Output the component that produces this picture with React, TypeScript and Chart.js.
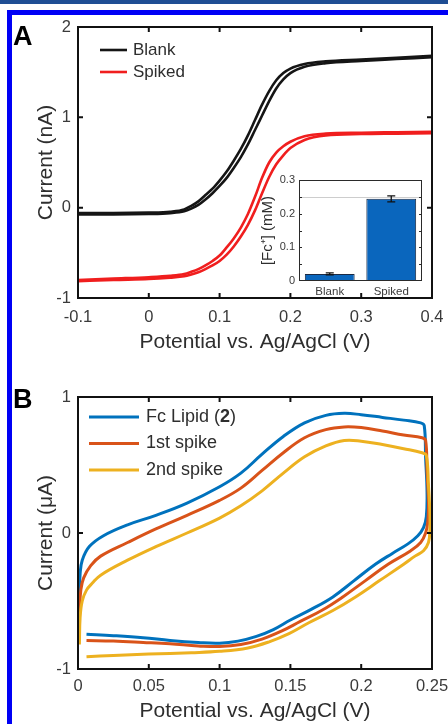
import { useEffect, useRef } from 'react';
import { Chart, registerables } from 'chart.js';

Chart.register(...registerables);

const FONT = '"Liberation Sans", Arial, Helvetica, sans-serif';
const TICK_COLOR = '#3a3a3a';
const TITLE_COLOR = '#2e2e2e';

// ---------- Panel A: steady-state voltammograms ----------
const potentialA = [-0.1, -0.05, 0, 0.03, 0.05, 0.06, 0.07, 0.08, 0.09, 0.1, 0.11, 0.12, 0.13, 0.14, 0.15, 0.16, 0.17, 0.18, 0.19, 0.2, 0.22, 0.25, 0.3, 0.35, 0.4];
const blankForward = [-0.06, -0.06, -0.055, -0.045, -0.02, 0.02, 0.07, 0.14, 0.21, 0.3, 0.4, 0.52, 0.65, 0.8, 0.97, 1.14, 1.29, 1.41, 1.49, 1.54, 1.59, 1.62, 1.64, 1.66, 1.68];
const blankReverse = [-0.075, -0.075, -0.07, -0.06, -0.04, -0.01, 0.03, 0.09, 0.16, 0.24, 0.33, 0.44, 0.56, 0.7, 0.86, 1.02, 1.18, 1.32, 1.42, 1.49, 1.56, 1.6, 1.625, 1.645, 1.665];
const spikedForward = [-0.8, -0.785, -0.77, -0.755, -0.735, -0.71, -0.68, -0.64, -0.59, -0.53, -0.44, -0.34, -0.22, -0.07, 0.12, 0.33, 0.5, 0.61, 0.68, 0.73, 0.79, 0.82, 0.83, 0.835, 0.84];
const spikedReverse = [-0.815, -0.8, -0.79, -0.775, -0.76, -0.74, -0.715, -0.68, -0.64, -0.59, -0.52, -0.43, -0.32, -0.19, -0.03, 0.16, 0.34, 0.48, 0.58, 0.66, 0.75, 0.8, 0.815, 0.82, 0.825];
const seriesNamesA = ['Blank', 'Spiked'];
const xTicksA = [-0.1, 0, 0.1, 0.2, 0.3, 0.4];
const xTickLabelsA = ['-0.1', '0', '0.1', '0.2', '0.3', '0.4'];
const yTicksA = [-1, 0, 1, 2];
const yTickLabelsA = ['-1', '0', '1', '2'];

// ---------- Panel A inset: [Fc+] bar chart ----------
const insetCategories = ['Blank', 'Spiked'];
const insetValues = [0.021, 0.244];
const insetErrors = [0.003, 0.009];
const insetRefLevel = 0.25;
const insetYTicks = [0, 0.1, 0.2, 0.3];
const insetYTickLabels = ['0', '0.1', '0.2', '0.3'];
const insetTickMarks = [0.05, 0.1, 0.15, 0.2, 0.25];

// ---------- Panel B: cyclic voltammograms ----------
const cvPotentialLipid = [0.0008, 0.001, 0.0015, 0.003, 0.008, 0.018, 0.035, 0.055, 0.077, 0.1, 0.115, 0.13, 0.145, 0.16, 0.175, 0.188, 0.2, 0.215, 0.23, 0.242, 0.2445, 0.2455, 0.2465, 0.246, 0.244, 0.24, 0.233, 0.222, 0.21, 0.195, 0.18, 0.165, 0.15, 0.138, 0.126, 0.113, 0.1, 0.085, 0.065, 0.046, 0.025, 0.006];
const cvCurrentLipid = [-0.72, -0.45, -0.3, -0.2, -0.1, -0.02, 0.06, 0.13, 0.22, 0.34, 0.44, 0.58, 0.71, 0.81, 0.865, 0.88, 0.87, 0.85, 0.83, 0.81, 0.79, 0.55, 0.3, 0.12, 0.04, -0.02, -0.08, -0.15, -0.23, -0.35, -0.47, -0.56, -0.64, -0.71, -0.76, -0.795, -0.81, -0.805, -0.79, -0.77, -0.755, -0.745];
const cvPotentialSpike1 = [0.0008, 0.0012, 0.002, 0.004, 0.009, 0.016, 0.035, 0.055, 0.077, 0.1, 0.115, 0.13, 0.145, 0.16, 0.175, 0.188, 0.2, 0.215, 0.23, 0.243, 0.2455, 0.2465, 0.2475, 0.247, 0.2455, 0.242, 0.235, 0.219, 0.203, 0.187, 0.172, 0.157, 0.144, 0.13, 0.115, 0.1, 0.085, 0.065, 0.046, 0.025, 0.006];
const cvCurrentSpike1 = [-0.76, -0.55, -0.42, -0.33, -0.24, -0.17, -0.07, 0.03, 0.13, 0.24, 0.33, 0.46, 0.59, 0.7, 0.76, 0.78, 0.775, 0.75, 0.72, 0.7, 0.68, 0.45, 0.22, 0.08, 0, -0.07, -0.13, -0.23, -0.35, -0.47, -0.57, -0.65, -0.72, -0.78, -0.82, -0.835, -0.83, -0.815, -0.805, -0.795, -0.79];
const cvPotentialSpike2 = [0.001, 0.0015, 0.003, 0.006, 0.01, 0.016, 0.035, 0.055, 0.077, 0.1, 0.115, 0.13, 0.145, 0.16, 0.175, 0.188, 0.2, 0.215, 0.23, 0.243, 0.246, 0.2475, 0.2485, 0.2485, 0.2475, 0.244, 0.238, 0.23, 0.213, 0.196, 0.18, 0.163, 0.149, 0.135, 0.12, 0.1, 0.08, 0.05, 0.025, 0.006];
const cvCurrentSpike2 = [-0.82, -0.62, -0.5, -0.42, -0.37, -0.31, -0.2, -0.1, 0, 0.11, 0.2, 0.31, 0.44, 0.56, 0.64, 0.68, 0.675, 0.65, 0.62, 0.59, 0.57, 0.35, 0.15, 0.02, -0.07, -0.13, -0.17, -0.23, -0.35, -0.47, -0.57, -0.66, -0.74, -0.8, -0.845, -0.87, -0.88, -0.89, -0.9, -0.91];
const seriesNamesB = ['Fc Lipid (**2**)', '1st spike', '2nd spike'];
const xTicksB = [0, 0.05, 0.1, 0.15, 0.2, 0.25];
const xTickLabelsB = ['0', '0.05', '0.1', '0.15', '0.2', '0.25'];
const yTicksB = [-1, 0, 1];
const yTickLabelsB = ['-1', '0', '1'];

const BLACK = '#151515';
const RED = '#f01e1e';
const BLUE = '#0072BD';
const ORANGE = '#D95319';
const YELLOW = '#EDB120';

// ---------- plugins ----------
function framePlugin(xt: number[], yt: number[], len: number, lw: number, color: string) {
  return {
    id: 'frame',
    afterDraw(chart: any) {
      const { ctx, chartArea: a, scales } = chart;
      ctx.save();
      ctx.strokeStyle = color;
      ctx.lineWidth = lw;
      ctx.beginPath();
      for (const v of xt) {
        const p = scales.x.getPixelForValue(v);
        ctx.moveTo(p, a.bottom); ctx.lineTo(p, a.bottom - len);
        ctx.moveTo(p, a.top); ctx.lineTo(p, a.top + len);
      }
      for (const v of yt) {
        const p = scales.y.getPixelForValue(v);
        ctx.moveTo(a.left, p); ctx.lineTo(a.left + len, p);
        ctx.moveTo(a.right, p); ctx.lineTo(a.right - len, p);
      }
      ctx.stroke();
      ctx.strokeRect(a.left, a.top, a.right - a.left, a.bottom - a.top);
      ctx.restore();
    },
  };
}

function legendPlugin(items: { label: string; color: string }[], x: number, y: number, dy: number, lineLen: number, gap: number, size: number, lw: number) {
  return {
    id: 'lineLegend',
    afterDraw(chart: any) {
      const { ctx } = chart;
      ctx.save();
      items.forEach((it, i) => {
        const yy = y + i * dy;
        ctx.strokeStyle = it.color;
        ctx.lineWidth = lw;
        ctx.beginPath();
        ctx.moveTo(x, yy);
        ctx.lineTo(x + lineLen, yy);
        ctx.stroke();
        let tx = x + lineLen + gap;
        ctx.textBaseline = 'middle';
        ctx.textAlign = 'left';
        ctx.fillStyle = TITLE_COLOR;
        it.label.split('**').forEach((part, k) => {
          ctx.font = `${k % 2 ? 'bold ' : ''}${size}px ${FONT}`;
          ctx.fillText(part, tx, yy);
          tx += ctx.measureText(part).width;
        });
      });
      ctx.restore();
    },
  };
}

function letterPlugin(text: string, x: number, y: number) {
  return {
    id: 'panelLetter',
    afterDraw(chart: any) {
      const { ctx } = chart;
      ctx.save();
      ctx.font = `bold 27px ${FONT}`;
      ctx.fillStyle = '#000';
      ctx.textBaseline = 'alphabetic';
      ctx.textAlign = 'left';
      ctx.fillText(text, x, y);
      ctx.restore();
    },
  };
}

function insetDecorPlugin() {
  return {
    id: 'insetDecor',
    beforeDatasetsDraw(chart: any) {
      const { ctx, chartArea: a, scales } = chart;
      ctx.save();
      ctx.fillStyle = '#fff';
      ctx.fillRect(a.left, a.top, a.right - a.left, a.bottom - a.top);
      const ry = Math.round(scales.y.getPixelForValue(insetRefLevel)) + 0.5;
      ctx.strokeStyle = '#cdcdcd';
      ctx.lineWidth = 1;
      ctx.beginPath();
      ctx.moveTo(a.left, ry);
      ctx.lineTo(a.right, ry);
      ctx.stroke();
      ctx.restore();
    },
    afterDatasetsDraw(chart: any) {
      const { ctx, chartArea: a, scales } = chart;
      const meta = chart.getDatasetMeta(0);
      ctx.save();
      ctx.strokeStyle = '#111';
      ctx.lineWidth = 1.3;
      meta.data.forEach((bar: any, i: number) => {
        const x = bar.x;
        const top = scales.y.getPixelForValue(insetValues[i] + insetErrors[i]);
        const bot = scales.y.getPixelForValue(insetValues[i] - insetErrors[i]);
        ctx.beginPath();
        ctx.moveTo(x, top); ctx.lineTo(x, bot);
        ctx.moveTo(x - 4, top); ctx.lineTo(x + 4, top);
        ctx.moveTo(x - 4, bot); ctx.lineTo(x + 4, bot);
        ctx.stroke();
      });
      ctx.strokeStyle = '#2a2a2a';
      ctx.lineWidth = 1;
      ctx.beginPath();
      for (const v of insetTickMarks) {
        const p = Math.round(scales.y.getPixelForValue(v)) + 0.5;
        ctx.moveTo(a.left, p); ctx.lineTo(a.left + 3, p);
        ctx.moveTo(a.right, p); ctx.lineTo(a.right - 3, p);
      }
      ctx.stroke();
      ctx.strokeRect(a.left + 0.5, a.top + 0.5, a.right - a.left - 1, a.bottom - a.top - 1);
      ctx.restore();
    },
  };
}

// ---------- axis builders ----------
function xAxis(min: number, max: number, ticks: number[], labels: string[], height: number, title: string, titlePadBottom: number, labelPad: number, size: number) {
  return {
    type: 'linear',
    min,
    max,
    afterBuildTicks: (s: any) => { s.ticks = ticks.map((v) => ({ value: v })); },
    afterFit: (s: any) => { s.height = height; s.paddingLeft = 0; s.paddingRight = 0; },
    grid: { display: false, drawTicks: false },
    border: { display: false },
    ticks: {
      autoSkip: false,
      maxRotation: 0,
      padding: labelPad,
      color: TICK_COLOR,
      font: { family: FONT, size },
      callback: (_v: any, i: number) => labels[i],
    },
    title: { display: true, text: title, color: TITLE_COLOR, font: { family: FONT, size: 21 }, padding: { top: 0, bottom: titlePadBottom } },
  };
}

function yAxis(min: number, max: number, ticks: number[], labels: string[], width: number, title: string, titlePadTop: number, labelPad: number, size: number, titleSize = 21) {
  return {
    type: 'linear',
    min,
    max,
    afterBuildTicks: (s: any) => { s.ticks = ticks.map((v) => ({ value: v })); },
    afterFit: (s: any) => { s.width = width; s.paddingTop = 0; s.paddingBottom = 0; },
    grid: { display: false, drawTicks: false },
    border: { display: false },
    ticks: {
      autoSkip: false,
      padding: labelPad,
      color: TICK_COLOR,
      font: { family: FONT, size },
      callback: (_v: any, i: number) => labels[i],
    },
    title: { display: true, text: title, color: TITLE_COLOR, font: { family: FONT, size: titleSize }, padding: { top: titlePadTop, bottom: 0 } },
  };
}

// ---------- configs ----------
function configA(): any {
  const ds = (ys: number[], color: string) => ({
    data: potentialA.map((x, i) => ({ x, y: ys[i] })),
    borderColor: color,
    borderWidth: 2.6,
    pointRadius: 0,
    cubicInterpolationMode: 'monotone',
    fill: false,
  });
  return {
    type: 'line',
    data: { datasets: [ds(blankForward, BLACK), ds(blankReverse, BLACK), ds(spikedForward, RED), ds(spikedReverse, RED)] },
    options: {
      responsive: false,
      animation: false,
      devicePixelRatio: 1,
      layout: { padding: { top: 27, right: 16, left: 0, bottom: 0 } },
      plugins: { legend: { display: false }, tooltip: { enabled: false } },
      scales: {
        x: xAxis(-0.1, 0.4, xTicksA, xTickLabelsA, 62, 'Potential vs. Ag/AgCl (V)', 5.4, 10, 16.5),
        y: yAxis(-1, 2, yTicksA, yTickLabelsA, 78, 'Current (nA)', 33.4, 7, 16.5),
      },
    },
    plugins: [
      framePlugin(xTicksA, yTicksA, 5, 2, '#111'),
      legendPlugin([{ label: seriesNamesA[0], color: BLACK }, { label: seriesNamesA[1], color: RED }], 100, 50, 22, 27, 6, 17, 2.6),
      letterPlugin('A', 13, 45),
    ],
  };
}

function configInset(): any {
  return {
    type: 'bar',
    data: {
      labels: insetCategories,
      datasets: [{
        data: insetValues,
        backgroundColor: '#0a66bd',
        borderColor: '#1b2a44',
        borderWidth: 1,
        categoryPercentage: 1,
        barPercentage: 0.81,
      }],
    },
    options: {
      responsive: false,
      animation: false,
      devicePixelRatio: 1,
      layout: { padding: { top: 10, right: 13, left: 0, bottom: 0 } },
      plugins: { legend: { display: false }, tooltip: { enabled: false } },
      scales: {
        x: {
          type: 'category',
          afterFit: (s: any) => { s.height = 18; s.paddingLeft = 0; s.paddingRight = 0; },
          grid: { display: false, drawTicks: false },
          border: { display: false },
          ticks: { padding: 4, color: TICK_COLOR, font: { family: FONT, size: 11.5 }, maxRotation: 0 },
        },
        y: yAxis(0, 0.3, insetYTicks, insetYTickLabels, 49, '[Fc⁺] (mM)', 9, 4, 11, 15),
      },
    },
    plugins: [insetDecorPlugin()],
  };
}

function configB(): any {
  const ds = (xs: number[], ys: number[], color: string, order: number) => ({
    data: xs.map((x, i) => ({ x, y: ys[i] })),
    borderColor: color,
    backgroundColor: color,
    borderWidth: 3,
    pointRadius: 0,
    showLine: true,
    tension: 0.4,
    fill: false,
    order,
  });
  return {
    type: 'scatter',
    data: {
      datasets: [
        ds(cvPotentialLipid, cvCurrentLipid, BLUE, 2),
        ds(cvPotentialSpike1, cvCurrentSpike1, ORANGE, 1),
        ds(cvPotentialSpike2, cvCurrentSpike2, YELLOW, 0),
      ],
    },
    options: {
      responsive: false,
      animation: false,
      devicePixelRatio: 1,
      layout: { padding: { top: 32, right: 16, left: 0, bottom: 0 } },
      plugins: { legend: { display: false }, tooltip: { enabled: false } },
      scales: {
        x: xAxis(0, 0.25, xTicksB, xTickLabelsB, 57, 'Potential vs. Ag/AgCl (V)', 1.9, 8, 16.5),
        y: yAxis(-1, 1, yTicksB, yTickLabelsB, 78, 'Current (μA)', 33.4, 7, 16.5),
      },
    },
    plugins: [
      framePlugin(xTicksB, yTicksB, 5, 2, '#111'),
      legendPlugin([
        { label: seriesNamesB[0], color: BLUE },
        { label: seriesNamesB[1], color: ORANGE },
        { label: seriesNamesB[2], color: YELLOW },
      ], 89, 52, 26.5, 50, 7, 18, 3),
      letterPlugin('B', 13, 43),
    ],
  };
}

export default function App() {
  const aRef = useRef<HTMLCanvasElement>(null);
  const insetRef = useRef<HTMLCanvasElement>(null);
  const bRef = useRef<HTMLCanvasElement>(null);

  useEffect(() => {
    const charts = [
      new Chart(aRef.current as HTMLCanvasElement, configA()),
      new Chart(insetRef.current as HTMLCanvasElement, configInset()),
      new Chart(bRef.current as HTMLCanvasElement, configB()),
    ];
    return () => charts.forEach((c) => c.destroy());
  }, []);

  return (
    <div style={{ position: 'absolute', left: 0, top: 0, width: 448, height: 726, background: '#fff', overflow: 'hidden' }}>
      <canvas ref={aRef} width={448} height={360} style={{ position: 'absolute', left: 0, top: 0 }} />
      <canvas ref={insetRef} width={185} height={129} style={{ position: 'absolute', left: 250, top: 170 }} />
      <canvas ref={bRef} width={448} height={361} style={{ position: 'absolute', left: 0, top: 365 }} />
      <div style={{ position: 'absolute', left: 0, top: 0, width: 448, height: 4, background: '#1f4e94' }} />
      <div style={{ position: 'absolute', left: 7, top: 10, width: 441, height: 5, background: '#0000f5' }} />
      <div style={{ position: 'absolute', left: 7, top: 10, width: 5, height: 714, background: '#0000f5' }} />
    </div>
  );
}
